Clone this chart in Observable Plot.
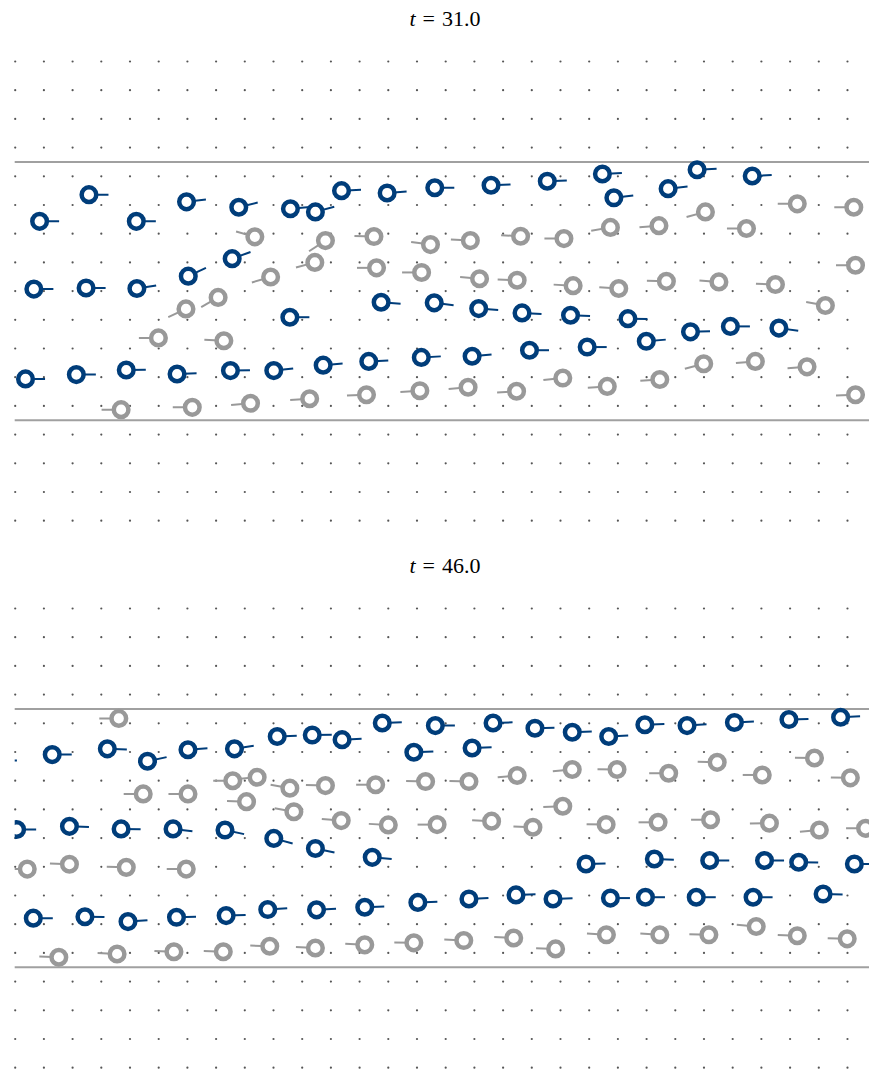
<!DOCTYPE html>
<html>
<head>
<meta charset="utf-8">
<script src="https://cdn.jsdelivr.net/npm/d3@7"></script>
<script src="https://cdn.jsdelivr.net/npm/@observablehq/plot@0.6"></script>
<style>
  html, body { margin: 0; padding: 0; background: #fff; overflow: hidden; }
  .panel { position: relative; width: 869px; height: 547.3px; }
  .panel svg { position: absolute; left: 0; top: 0; }
  .title { position: absolute; left: 0; width: 890px; top: 7px; text-align: center;
           font-family: "Liberation Serif", "DejaVu Serif", serif; font-size: 22px; line-height: 24px; color: #000; z-index: 2; }
  .title .eq { margin: 0 7px; }
</style>
</head>
<body>
<div id="chart"></div>
<script>
// ---- panel titles ----
const panelTimes = ["31.0", "46.0"];

// ---- t = 31.0 : blue particles (x, y in lattice units, tail angle in degrees) ----
const t31BlueX = [0.85, 2.57, 4.22, 5.97, 7.79, 9.59, 10.46, 11.37, 12.96, 14.62, 16.58, 18.54, 20.46, 20.86, 22.75, 23.76, 25.68,
  0.65, 2.47, 4.24, 6.03, 7.56, 9.57, 12.75, 14.60, 16.15, 17.66, 19.35, 21.35, 21.99, 23.53, 24.92, 26.61,
  0.36, 2.13, 3.87, 5.64, 7.50, 9.01, 10.73, 12.32, 14.15, 15.92, 17.92, 19.93];
const t31BlueY = [6.93, 7.86, 6.93, 7.61, 7.42, 7.37, 7.26, 8.00, 7.92, 8.10, 8.19, 8.33, 8.58, 7.75, 8.07, 8.73, 8.51,
  4.57, 4.61, 4.59, 5.02, 5.63, 3.59, 4.11, 4.09, 3.89, 3.74, 3.66, 3.54, 2.75, 3.08, 3.27, 3.21,
  1.44, 1.59, 1.75, 1.61, 1.73, 1.73, 1.92, 2.05, 2.19, 2.23, 2.44, 2.55];
const t31BlueA = [0, 0, 0, 7, 14, 5, 15, 3, 4, 0, 2, 2, 3, 7, 6, 3, 3,
  0, 0, 9, 25, 20, 0, -4, -7, -4, -3, -2, -1, 5, 2, 0, -8,
  0, 0, 1, 2, 1, 6, 5, 3, 3, 5, 0, 0];

// ---- t = 31.0 : grey particles ----
const t31GreyX = [8.35, 10.81, 12.50, 14.47, 10.44, 12.59, 14.16, 8.90, 7.07, 5.95, 4.99, 7.27, 3.69, 6.17, 8.20, 10.26, 12.24, 14.10,
  15.86, 17.61, 19.12, 20.74, 22.43, 24.05, 25.48, 27.25, 29.22, 16.18, 17.49, 19.44, 21.03, 22.69, 24.52, 26.49, 28.23, 29.28,
  15.78, 17.47, 19.08, 20.63, 22.46, 23.99, 25.79, 27.59, 29.28];
const t31GreyY = [6.39, 6.26, 6.40, 6.12, 5.50, 5.31, 5.15, 4.99, 4.28, 3.88, 2.87, 2.77, 0.37, 0.45, 0.59, 0.75, 0.89, 1.03,
  6.26, 6.41, 6.33, 6.72, 6.78, 7.26, 6.68, 7.54, 7.42, 4.93, 4.88, 4.69, 4.59, 4.84, 4.82, 4.73, 4.00, 5.40,
  1.15, 1.01, 1.47, 1.18, 1.42, 1.97, 2.05, 1.86, 0.89];
const t31GreyA = [164, 213, 178, 172, 195, 180, 180, 196, 210, 205, 180, 177, 180, 180, 185, 184, 182, 184,
  177, 177, 180, 190, 185, 195, 180, 180, 180, 175, 178, 177, 176, 178, 176, 178, 170, 180,
  185, 184, 186, 184, 184, 195, 185, 184, 182];

// ---- t = 46.0 : blue particles ----
const t46BlueX = [-0.62, 1.29, 3.21, 4.61, 6.02, 7.64, 9.13, 10.35, 11.39, 12.79, 13.89, 14.64, 15.92, 16.65, 18.11, 19.41, 20.68, 21.94, 23.41, 25.06, 26.96, 28.76,
  0.05, 1.89, 3.69, 5.50, 7.31, 9.01, 10.46, 12.44, 19.89, 22.27, 24.20, 26.11, 27.30, 29.24,
  0.63, 2.43, 3.93, 5.62, 7.35, 8.80, 10.50, 12.18, 14.03, 15.81, 17.45, 18.74, 20.74, 21.96, 23.73, 25.71, 28.15];
const t46BlueY = [7.20, 7.41, 7.61, 7.18, 7.58, 7.61, 8.04, 8.09, 7.93, 8.51, 7.49, 8.42, 7.64, 8.51, 8.33, 8.19, 8.04, 8.45, 8.42, 8.53, 8.63, 8.71,
  4.80, 4.91, 4.82, 4.82, 4.78, 4.49, 4.14, 3.83, 3.60, 3.77, 3.72, 3.72, 3.66, 3.60,
  1.71, 1.76, 1.59, 1.74, 1.80, 2.01, 2.00, 2.09, 2.26, 2.38, 2.52, 2.38, 2.41, 2.44, 2.44, 2.44, 2.55];
const t46BlueA = [0, 0, -2, 12, 4, 9, 2, 1, 3, 2, 2, 0, 2, 2, 1, 2, 3, 2, 4, 3, 2, 3,
  0, -2, -1, -7, -12, -15, -12, -5, 1, -2, 0, 0, -1, 0,
  0, -1, 4, 2, 2, 4, 3, 2, 2, 3, 2, 2, 0, 0, 0, 0, -1];

// ---- t = 46.0 : grey particles ----
const t46GreyX = [3.61, 7.58, 8.43, 4.46, 6.02, 8.06, 9.57, 10.81, 12.56, 14.30, 9.71, 11.36, 13.00, 14.70, 0.42, 1.89, 3.87, 5.96,
  1.52, 3.55, 5.53, 7.25, 8.87, 10.46, 12.18, 13.89,
  15.81, 17.49, 19.41, 20.97, 22.77, 24.46, 26.03, 27.85, 29.10, 16.60, 18.04, 19.08, 20.59, 22.40, 24.23, 26.28, 28.02, 29.63,
  15.63, 17.37, 18.83, 20.60, 22.46, 24.17, 25.82, 27.25, 28.99];
const t46GreyY = [8.67, 6.50, 6.62, 6.04, 6.04, 5.77, 6.24, 6.33, 6.36, 6.47, 5.42, 5.11, 4.96, 4.97, 3.42, 3.59, 3.48, 3.42,
  0.35, 0.46, 0.54, 0.54, 0.73, 0.67, 0.78, 0.85,
  6.47, 6.68, 6.89, 6.89, 6.76, 7.14, 6.70, 7.29, 6.60, 5.09, 4.88, 5.61, 4.97, 5.05, 5.14, 5.02, 4.78, 4.84,
  0.93, 1.02, 0.64, 1.13, 1.13, 1.13, 1.42, 1.10, 0.99];
const t46GreyA = [180, 180, 185, 180, 180, 178, 170, 178, 180, 178, 170, 175, 177, 180, 180, 178, 178, 180,
  178, 177, 178, 178, 178, 177, 177, 179,
  178, 185, 185, 179, 180, 178, 180, 179, 179, 177, 178, 182, 179, 180, 180, 181, 185, 180,
  177, 177, 178, 176, 176, 178, 175, 178, 178];

// ---- lattice of background dots and channel walls ----
const latticeCols = d3.range(0, 30);
const latticeRows = d3.range(-3.5, 13, 1);
const walls = [0, 9];

const BLUE = "#003d7a", GREY = "#999999";
const TAIL = 0.68; // tail length in lattice units

function particles(xs, ys, as) {
  return xs.map((x, i) => ({x, y: ys[i], a: as[i]}));
}
const lattice = d3.cross(latticeCols, latticeRows).map(([x, y]) => ({x, y}));

function tails(data, color) {
  return Plot.link(data, {
    x1: "x", y1: "y",
    x2: d => d.x + TAIL * Math.cos(d.a * Math.PI / 180),
    y2: d => d.y + TAIL * Math.sin(d.a * Math.PI / 180),
    stroke: color, strokeWidth: 2, clip: true
  });
}
function rings(data, color) {
  return Plot.dot(data, {x: "x", y: "y", r: 7.3, stroke: color, strokeWidth: 4.5, fill: "white", clip: true});
}

const panels = [
  {time: panelTimes[0], blue: particles(t31BlueX, t31BlueY, t31BlueA), grey: particles(t31GreyX, t31GreyY, t31GreyA)},
  {time: panelTimes[1], blue: particles(t46BlueX, t46BlueY, t46BlueA), grey: particles(t46GreyX, t46GreyY, t46GreyA)}
];

const root = document.getElementById("chart");
for (const p of panels) {
  const div = document.createElement("div");
  div.className = "panel";
  const title = document.createElement("div");
  title.className = "title";
  title.innerHTML = `<i>t</i><span class="eq">=</span>${p.time}`;
  const svg = Plot.plot({
    width: 869,
    height: 547.3,
    marginLeft: 14.7,
    marginRight: 0,
    marginTop: 61,
    marginBottom: 27.1,
    x: {domain: [0, 29.767], axis: null},
    y: {domain: [-3.5, 12.5], axis: null},
    style: {background: "white"},
    marks: [
      Plot.dot(lattice, {x: "x", y: "y", r: 1.1, fill: "#555", stroke: "none"}),
      Plot.ruleY(walls, {stroke: "#a0a0a0", strokeWidth: 2}),
      tails(p.grey, GREY),
      rings(p.grey, GREY),
      tails(p.blue, BLUE),
      rings(p.blue, BLUE)
    ]
  });
  div.appendChild(svg);
  div.appendChild(title);
  root.appendChild(div);
}
</script>
</body>
</html>
